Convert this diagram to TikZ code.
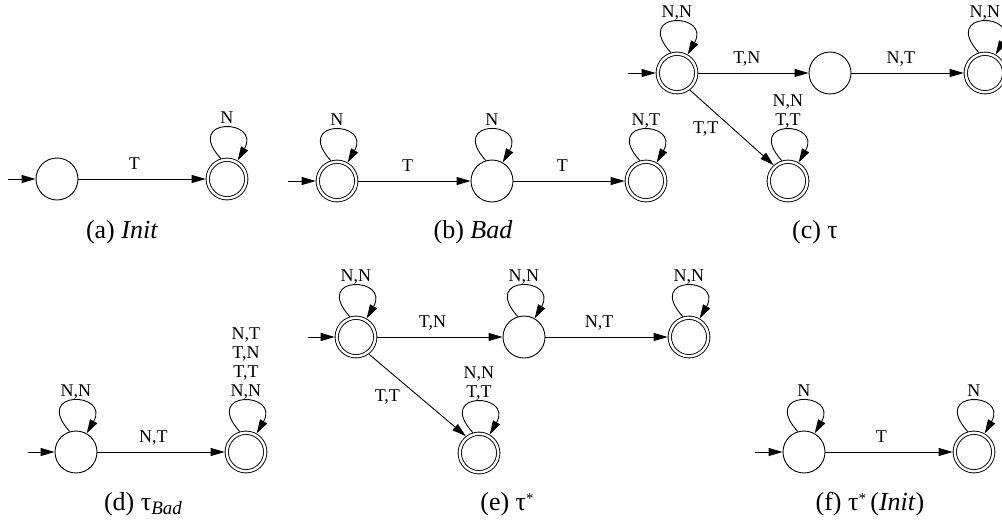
\documentclass[tikz,border=0pt]{standalone}
\usepackage{fontspec}
\setmainfont{Liberation Serif}
\usetikzlibrary{arrows.meta}
\begin{document}
\begin{tikzpicture}[x=1pt,y=-1pt,
  stnode/.style={circle,draw,line width=0.9pt,minimum size=42pt,inner sep=0pt},
  accnode/.style={circle,draw,line width=0.9pt,double,double distance=2.4pt,minimum size=38.5pt,inner sep=0pt,outer sep=2.1pt},
  arr/.style={line width=0.9pt,-{Triangle[length=14pt,width=8pt]}},
  lbl/.style={font=\fontsize{18}{19}\selectfont,inner sep=0pt,text depth=0pt,align=center},
  captxt/.style={font=\fontsize{26}{30}\selectfont,inner sep=0pt},
  lp/.style={lbl,pos=0.5,anchor=south,xshift=3pt,yshift=4.5pt},
  el/.style={lbl,pos=0.44,anchor=south,yshift=9pt}
]
\useasboundingbox (0,0) rectangle (1002,525);

% (a)
\node[stnode] (a1) at (57,179) {};
\node[accnode] (a2) at (227,179) {};
\coordinate (a0) at (8,179);
\draw[arr] (a0) -- (a1);
\draw[arr] (a1) -- (a2) node[el] {T};
\draw[arr] (a2.107) .. controls +(-38,-42) and +(24,-42) .. (a2.60) node[lp] {N};
\node[captxt] (capa) at (122,232) {(a) \textit{Init}};

% (b)
\node[accnode] (b1) at (337,181) {};
\node[stnode] (b2) at (492,181) {};
\node[accnode] (b3) at (646,181) {};
\coordinate (b0) at (288,181);
\draw[arr] (b0) -- (b1);
\draw[arr] (b1) -- (b2) node[el] {T};
\draw[arr] (b2) -- (b3) node[el] {T};
\draw[arr] (b1.107) .. controls +(-38,-42) and +(24,-42) .. (b1.60) node[lp] {N};
\draw[arr] (b2.107) .. controls +(-38,-42) and +(24,-42) .. (b2.60) node[lp] {N};
\draw[arr] (b3.107) .. controls +(-38,-42) and +(24,-42) .. (b3.60) node[lp] {N,T};
\node[captxt] (capb) at (473,232) {(b) \textit{Bad}};

% (c)
\node[accnode] (c1) at (677,73) {};
\node[stnode] (c2) at (830,73) {};
\node[accnode] (c3) at (985,73) {};
\node[accnode] (c4) at (788,181) {};
\coordinate (c0) at (628,73);
\draw[arr] (c0) -- (c1);
\draw[arr] (c1) -- (c2) node[el] {T,N};
\draw[arr] (c2) -- (c3) node[el] {N,T};
\draw[arr] (c1.-53) -- (c4.132) node[lbl,pos=0.5,anchor=east,xshift=-13pt] {T,T};
\draw[arr] (c1.107) .. controls +(-38,-42) and +(24,-42) .. (c1.60) node[lp] {N,N};
\draw[arr] (c3.107) .. controls +(-38,-42) and +(24,-42) .. (c3.60) node[lp] {N,N};
\draw[arr] (c4.107) .. controls +(-38,-42) and +(24,-42) .. (c4.60) node[lp] {N,N\\T,T};
\node[captxt] (capc) at (815,232) {(c) τ};

% (d)
\node[stnode] (d1) at (76,452) {};
\node[accnode] (d2) at (246,452) {};
\coordinate (d0) at (28,452);
\draw[arr] (d0) -- (d1);
\draw[arr] (d1) -- (d2) node[el] {N,T};
\draw[arr] (d1.107) .. controls +(-38,-42) and +(24,-42) .. (d1.60) node[lp] {N,N};
\draw[arr] (d2.107) .. controls +(-38,-42) and +(24,-42) .. (d2.60) node[lp] {N,T\\T,N\\T,T\\N,N};
\node[captxt] (capd) at (143,504) {(d) τ\raisebox{-0.35ex}{\fontsize{19}{19}\selectfont\textit{Bad}}};

% (e)
\node[accnode] (e1) at (356,337) {};
\node[stnode] (e2) at (524,337) {};
\node[accnode] (e3) at (689,337) {};
\node[accnode] (e4) at (479,453) {};
\coordinate (e0) at (308,337);
\draw[arr] (e0) -- (e1);
\draw[arr] (e1) -- (e2) node[el] {T,N};
\draw[arr] (e2) -- (e3) node[el] {N,T};
\draw[arr] (e1.-53) -- (e4.128) node[lbl,pos=0.5,anchor=east,xshift=-17pt] {T,T};
\draw[arr] (e1.107) .. controls +(-38,-42) and +(24,-42) .. (e1.60) node[lp] {N,N};
\draw[arr] (e2.107) .. controls +(-38,-42) and +(24,-42) .. (e2.60) node[lp] {N,N};
\draw[arr] (e3.107) .. controls +(-38,-42) and +(24,-42) .. (e3.60) node[lp] {N,N};
\draw[arr] (e4.107) .. controls +(-38,-42) and +(24,-42) .. (e4.60) node[lp] {N,N\\T,T};
\node[captxt] (cape) at (507,504) {(e) τ\raisebox{0.6ex}{\fontsize{15}{15}\selectfont *}};

% (f)
\node[stnode] (f1) at (804,452) {};
\node[accnode] (f2) at (974,452) {};
\coordinate (f0) at (755,452);
\draw[arr] (f0) -- (f1);
\draw[arr] (f1) -- (f2) node[el] {T};
\draw[arr] (f1.107) .. controls +(-38,-42) and +(24,-42) .. (f1.60) node[lp] {N};
\draw[arr] (f2.107) .. controls +(-38,-42) and +(24,-42) .. (f2.60) node[lp] {N};
\node[captxt] (capf) at (870,504) {(f) τ\raisebox{0.6ex}{\fontsize{15}{15}\selectfont *}\,(\textit{Init})};
\end{tikzpicture}
\end{document}
